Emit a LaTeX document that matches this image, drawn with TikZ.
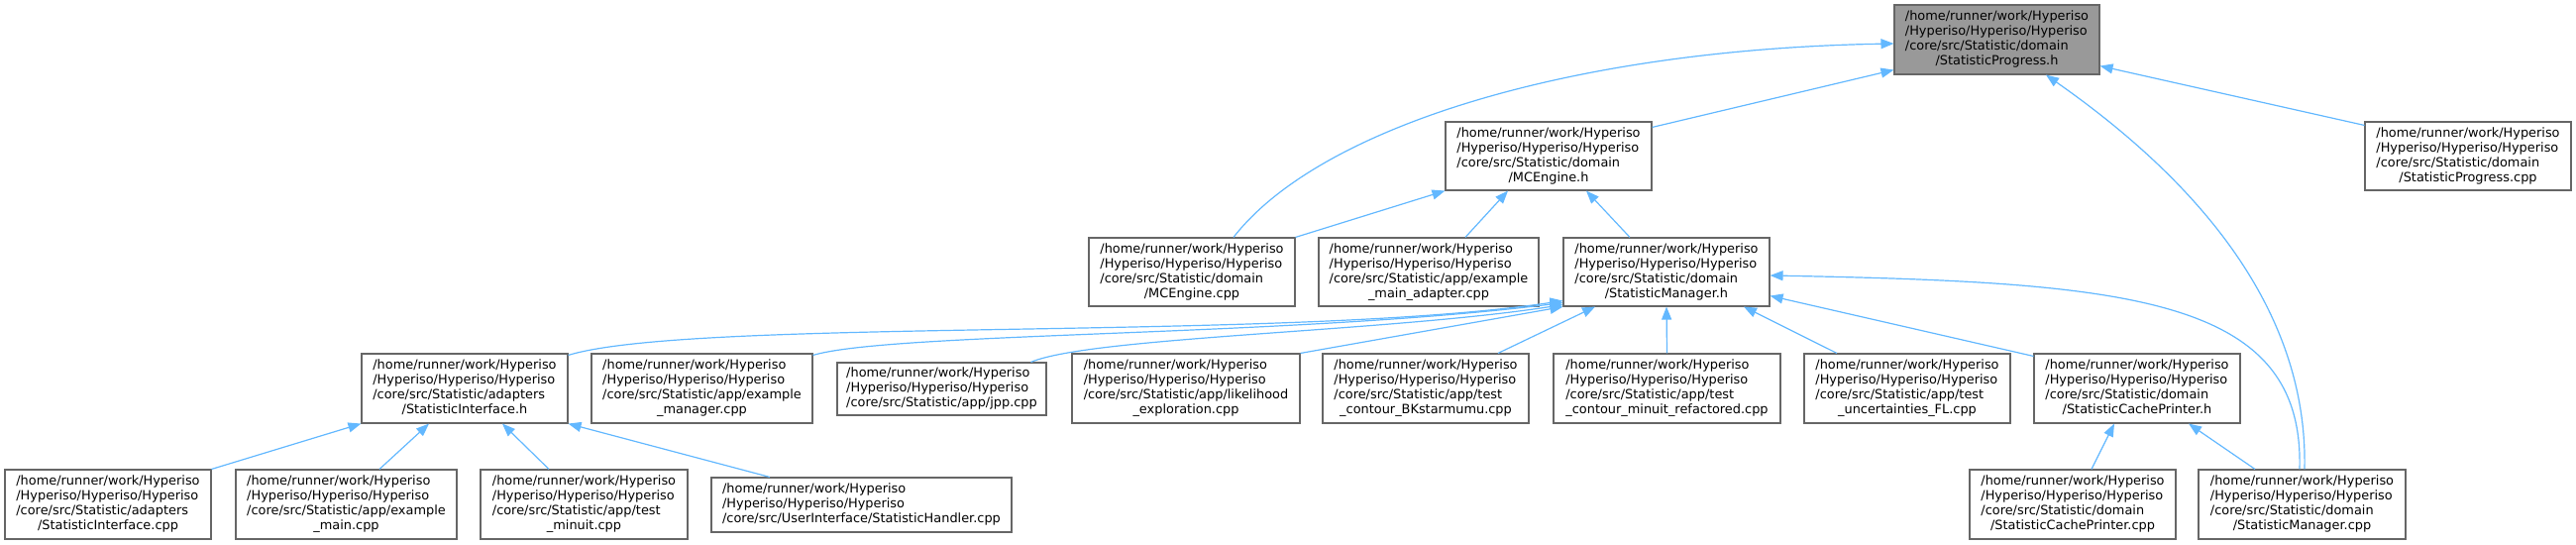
\documentclass[tikz,border=0pt]{standalone}
\usepackage{fontspec}
\setmainfont{DejaVu Sans}
\usetikzlibrary{arrows.meta}
\definecolor{edgeblue}{HTML}{63B8FF}
\definecolor{boxgray}{HTML}{666666}
\definecolor{focusgray}{HTML}{999999}
\newcommand\hpre{/home/runner/work/Hyperiso\\/Hyperiso/Hyperiso/Hyperiso\\}
\newcommand\lastline[1]{\multicolumn{1}{@{}c@{}}{#1}}
\newcommand\lbl[1]{\begin{tabular}{@{}l@{}}\hpre #1\end{tabular}}
\begin{document}
\begin{tikzpicture}[x=1pt,y=-1pt,
  filebox/.style={draw=boxgray, line width=1.1pt, fill=white, inner sep=0pt,
    font=\fontsize{12.9}{15}\selectfont, minimum width=208pt, minimum height=70pt},
  link/.style={draw=edgeblue, line width=1.2pt, -{Triangle[length=13pt,width=10pt]}}]
\useasboundingbox (0,0) rectangle (2600,549);

% rank 0
\node[filebox, fill=focusgray, minimum width=207pt] (sph) at (2015.5,40) {\lbl{/core/src/Statistic/domain\\\lastline{/StatisticProgress.h}}};
% rank 1
\node[filebox, minimum height=69pt] (mceh) at (1563,157.5) {\lbl{/core/src/Statistic/domain\\\lastline{/MCEngine.h}}};
\node[filebox, minimum height=69pt] (spcpp) at (2491,157.5) {\lbl{/core/src/Statistic/domain\\\lastline{/StatisticProgress.cpp}}};
% rank 2
\node[filebox, minimum height=69pt] (mcecpp) at (1203,274.5) {\lbl{/core/src/Statistic/domain\\\lastline{/MCEngine.cpp}}};
\node[filebox, minimum height=69pt, minimum width=222pt] (adapter) at (1442,274.5) {\lbl{/core/src/Statistic/app/example\\\lastline{\_main\_adapter.cpp}}};
\node[filebox, minimum height=69pt] (smh) at (1682,274.5) {\lbl{/core/src/Statistic/domain\\\lastline{/StatisticManager.h}}};
% rank 3
\node[filebox] (sih) at (469,392) {\lbl{/core/src/Statistic/adapters\\\lastline{/StatisticInterface.h}}};
\node[filebox, minimum width=223pt] (exman) at (708.5,392) {\lbl{/core/src/Statistic/app/example\\\lastline{\_manager.cpp}}};
\node[filebox, minimum width=211pt, minimum height=53pt] (jpp) at (950.5,392.5) {\lbl{\lastline{/core/src/Statistic/app/jpp.cpp}}};
\node[filebox, minimum width=230pt] (likeli) at (1197,392) {\lbl{/core/src/Statistic/app/likelihood\\\lastline{\_exploration.cpp}}};
\node[filebox] (bk) at (1439,392) {\lbl{/core/src/Statistic/app/test\\\lastline{\_contour\_BKstarmumu.cpp}}};
\node[filebox, minimum width=229pt] (refac) at (1682.5,392) {\lbl{/core/src/Statistic/app/test\\\lastline{\_contour\_minuit\_refactored.cpp}}};
\node[filebox] (uncert) at (1925,392) {\lbl{/core/src/Statistic/app/test\\\lastline{\_uncertainties\_FL.cpp}}};
\node[filebox] (scph) at (2157,392) {\lbl{/core/src/Statistic/domain\\\lastline{/StatisticCachePrinter.h}}};
% rank 4
\node[filebox] (sicpp) at (109,509) {\lbl{/core/src/Statistic/adapters\\\lastline{/StatisticInterface.cpp}}};
\node[filebox, minimum width=223pt] (exmain) at (349.5,509) {\lbl{/core/src/Statistic/app/example\\\lastline{\_main.cpp}}};
\node[filebox, minimum width=209pt] (tminuit) at (589.5,509) {\lbl{/core/src/Statistic/app/test\\\lastline{\_minuit.cpp}}};
\node[filebox, minimum width=303pt, minimum height=55pt] (handler) at (869.5,509.5) {\lbl{\lastline{/core/src/UserInterface/StatisticHandler.cpp}}};
\node[filebox] (scpcpp) at (2092,509) {\lbl{/core/src/Statistic/domain\\\lastline{/StatisticCachePrinter.cpp}}};
\node[filebox, minimum width=209pt] (smcpp) at (2323.5,509) {\lbl{/core/src/Statistic/domain\\\lastline{/StatisticManager.cpp}}};

% edges to StatisticProgress.h
\draw[link] ([xshift=42pt]mcecpp.north) .. controls (1330,130) and (1580,50) .. ([yshift=-4pt]sph.west);
\draw[link] ([yshift=-6pt]mceh.north east) -- ([yshift=5pt]sph.south west);
\draw[link] ([yshift=-4pt]spcpp.north west) -- ([yshift=9pt]sph.south east);
\draw[link] ([xshift=2.5pt]smcpp.north) .. controls (2330,300) and (2200,170) .. ([xshift=49.5pt]sph.south);
% edges to MCEngine.h
\draw[link] (mcecpp.north east) -- (mceh.south west);
\draw[link] ([xshift=37pt]adapter.north) -- ([xshift=-41pt]mceh.south);
\draw[link] ([xshift=-37pt]smh.north) -- ([xshift=38pt]mceh.south);
% edges to StatisticManager.h
\draw[link] ([yshift=-2pt]sih.north east) .. controls (700,320) and (1300,345) .. ([yshift=6pt]smh.south west);
\draw[link] ([yshift=-2pt]exman.north east) .. controls (900,335) and (1300,340) .. ([yshift=4pt]smh.south west);
\draw[link] ([xshift=-16pt]jpp.north east) .. controls (1100,340) and (1400,335) .. ([yshift=2pt]smh.south west);
\draw[link] (likeli.north east) -- (smh.south west);
\draw[link] ([xshift=73pt]bk.north) -- ([xshift=-72pt]smh.south);
\draw[link] (refac.north) -- (smh.south);
\draw[link] ([xshift=-71pt]uncert.north) -- ([xshift=78pt]smh.south);
\draw[link] ([yshift=-3pt]scph.north west) -- ([yshift=11pt]smh.south east);
\draw[link] ([xshift=-2.5pt]smcpp.north) .. controls (2326,300) and (2150,285) .. ([yshift=-3.5pt]smh.east);
% edges to StatisticCachePrinter.h
\draw[link] ([xshift=19pt]scpcpp.north) -- ([xshift=-23pt]scph.south);
\draw[link] ([xshift=-47.5pt]smcpp.north) -- ([xshift=52pt]scph.south);
% edges to StatisticInterface.h
\draw[link] (sicpp.north east) -- (sih.south west);
\draw[link] ([xshift=33.5pt]exmain.north) -- ([xshift=-36pt]sih.south);
\draw[link] ([xshift=-35.5pt]tminuit.north) -- ([xshift=38pt]sih.south);
\draw[link] ([xshift=-92.5pt]handler.north) -- (sih.south east);
\end{tikzpicture}
\end{document}
